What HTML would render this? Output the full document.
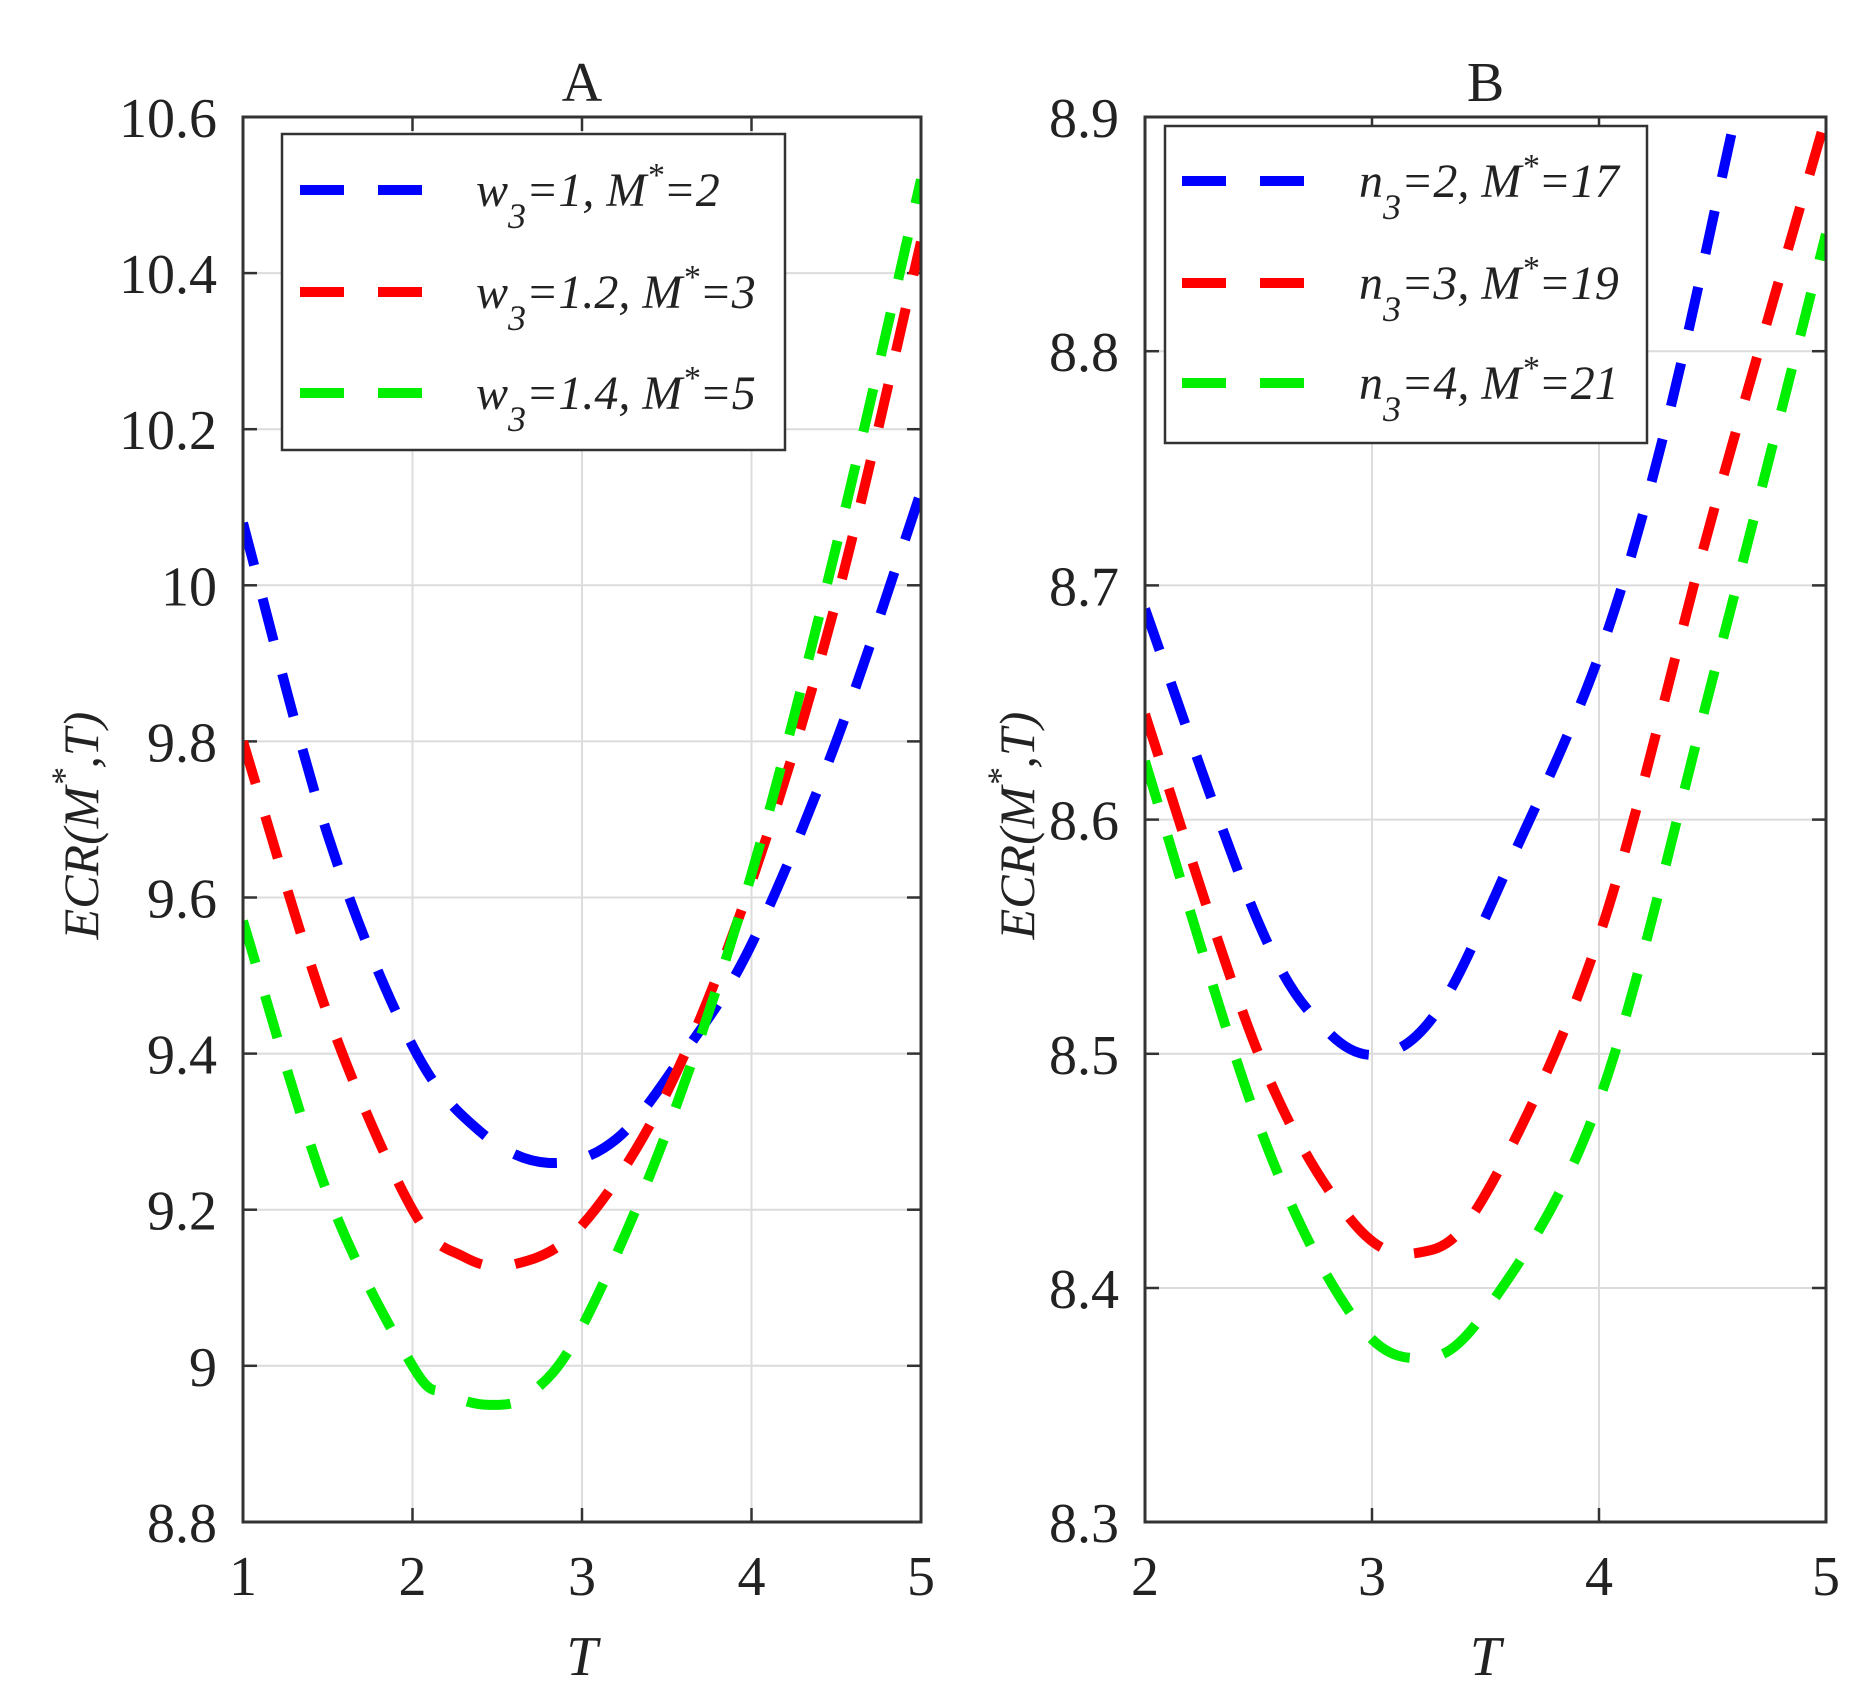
<!DOCTYPE html>
<html><head><meta charset="utf-8"><style>
html,body{margin:0;padding:0;background:#fff;}
svg{display:block;}
text{font-family:"Liberation Serif","Times New Roman",Times,serif;fill:#222;}
</style></head><body>
<svg id="s" width="1856" height="1704" viewBox="0 0 1856 1704" xmlns="http://www.w3.org/2000/svg" font-family="Liberation Serif, Times New Roman, serif"></svg>
<script>
const S=document.getElementById('s');let h='';
h+='<defs><clipPath id="ca"><rect x="243" y="117" width="678" height="1405"/></clipPath><clipPath id="cb"><rect x="1145" y="117" width="681" height="1405"/></clipPath></defs>';
function panel(L,R,T,B,xs,ys,xf,yf,title,clip,series,legend,yl){
  xs.forEach(v=>{const x=xf(v);h+=`<line x1="${x}" y1="${T}" x2="${x}" y2="${B}" stroke="#dcdcdc" stroke-width="2"/>`;});
  ys.forEach(v=>{const y=yf(v);h+=`<line x1="${L}" y1="${y}" x2="${R}" y2="${y}" stroke="#dcdcdc" stroke-width="2"/>`;});
  xs.forEach(v=>{const x=xf(v);h+=`<line x1="${x}" y1="${B}" x2="${x}" y2="${B-14}" stroke="#333" stroke-width="2.5"/><line x1="${x}" y1="${T}" x2="${x}" y2="${T+14}" stroke="#333" stroke-width="2.5"/>`;
    h+=`<text x="${x}" y="${B+73}" font-size="56" text-anchor="middle">${v}</text>`;});
  ys.forEach(v=>{const y=yf(v);h+=`<line x1="${L}" y1="${y}" x2="${L+14}" y2="${y}" stroke="#333" stroke-width="2.5"/><line x1="${R}" y1="${y}" x2="${R-14}" y2="${y}" stroke="#333" stroke-width="2.5"/>`;
    h+=`<text x="${L-26}" y="${y+20}" font-size="56" text-anchor="end">${v}</text>`;});
  series.forEach(s=>{
    const p=s.pts.map(q=>[xf(q[0]),yf(q[1])]);
    let d='M'+p[0][0]+','+p[0][1];
    for(let i=0;i<p.length-1;i++){const p0=p[Math.max(i-1,0)],p1=p[i],p2=p[i+1],p3=p[Math.min(i+2,p.length-1)];
      d+=` C${p1[0]+(p2[0]-p0[0])/6},${p1[1]+(p2[1]-p0[1])/6} ${p2[0]-(p3[0]-p1[0])/6},${p2[1]-(p3[1]-p1[1])/6} ${p2[0]},${p2[1]}`;}
    h+=`<path d="${d}" fill="none" stroke="${s.c}" stroke-width="10" stroke-dasharray="44 34" clip-path="url(#${clip})"/>`;
  });
  h+=`<rect x="${L}" y="${T}" width="${R-L}" height="${B-T}" fill="none" stroke="#333" stroke-width="3"/>`;
  h+=`<text x="${(L+R)/2}" y="${T-16}" font-size="56" text-anchor="middle">${title}</text>`;
  h+=`<text x="${(L+R)/2}" y="1675" font-size="56" font-style="italic" text-anchor="middle">T</text>`;
  h+=`<text transform="translate(${yl},${(T+B)/2+6}) rotate(-90)" font-size="50" font-style="italic" text-anchor="middle">ECR(M<tspan dy="-22" font-size="36">*</tspan><tspan dy="22">,T)</tspan></text>`;
  const lg=legend;
  h+=`<rect x="${lg.x}" y="${lg.y}" width="${lg.w}" height="${lg.h}" fill="#fff" stroke="#333" stroke-width="2.5"/>`;
  lg.items.forEach((it,i)=>{const y=lg.ly[i];
    h+=`<line x1="${lg.dx1}" y1="${y}" x2="${lg.dx2}" y2="${y}" stroke="${series[i].c}" stroke-width="10" stroke-dasharray="${lg.da}"/>`;
    h+=`<text x="${lg.tx}" y="${y+16}" font-size="48" font-style="italic">${it[0]}<tspan dy="22" font-size="36">3</tspan><tspan dy="-22">=${it[1]}, M</tspan><tspan dy="-20" font-size="34">*</tspan><tspan dy="20">=${it[2]}</tspan></text>`;
  });
}
panel(243,921,117,1522,[1,2,3,4,5],[10.6,10.4,10.2,10,9.8,9.6,9.4,9.2,9,8.8],
 v=>243+(v-1)*169.5, v=>117+(10.6-v)/0.2*156.1,'A','ca',
 [{c:'#0000ff',pts:[[1,10.08],[1.5,9.68],[2,9.41],[2.4,9.3],[2.8,9.26],[3.2,9.29],[3.6,9.4],[4,9.54],[4.5,9.8],[5,10.12]]},
  {c:'#ff0000',pts:[[1,9.8],[1.5,9.45],[2,9.2],[2.3,9.14],[2.6,9.13],[3,9.18],[3.5,9.35],[4,9.62],[4.5,9.98],[5,10.44]]},
  {c:'#00ee00',pts:[[1,9.57],[1.5,9.22],[2,9.0],[2.2,8.965],[2.45,8.95],[2.7,8.965],[3,9.05],[3.5,9.3],[4,9.63],[4.5,10.05],[5,10.52]]}],
 {x:282,y:134,w:503,h:316,ly:[190,292,393],dx1:300,dx2:430,da:'44 34',tx:476,items:[['w','1','2'],['w','1.2','3'],['w','1.4','5']]},98);
panel(1145,1826,117,1522,[2,3,4,5],[8.9,8.8,8.7,8.6,8.5,8.4,8.3],
 v=>1145+(v-2)*227, v=>117+(8.9-v)/0.1*234.2,'B','cb',
 [{c:'#0000ff',pts:[[2,8.69],[2.5,8.556],[2.8,8.51],[3.05,8.5],[3.3,8.52],[3.6,8.58],[4,8.67],[4.3,8.77],[4.6,8.9],[4.7,8.94]]},
  {c:'#ff0000',pts:[[2,8.645],[2.5,8.5],[2.9,8.43],[3.2,8.415],[3.5,8.44],[4,8.55],[4.5,8.73],[5,8.9]]},
  {c:'#00ee00',pts:[[2,8.625],[2.5,8.47],[2.9,8.39],[3.2,8.37],[3.5,8.39],[4,8.48],[4.5,8.66],[5,8.85]]}],
 {x:1165,y:126,w:482,h:317,ly:[181,283,383],dx1:1182,dx2:1317,da:'44 34',tx:1359,items:[['n','2','17'],['n','3','19'],['n','4','21']]},1034);
S.innerHTML=h;
</script>
</body></html>
